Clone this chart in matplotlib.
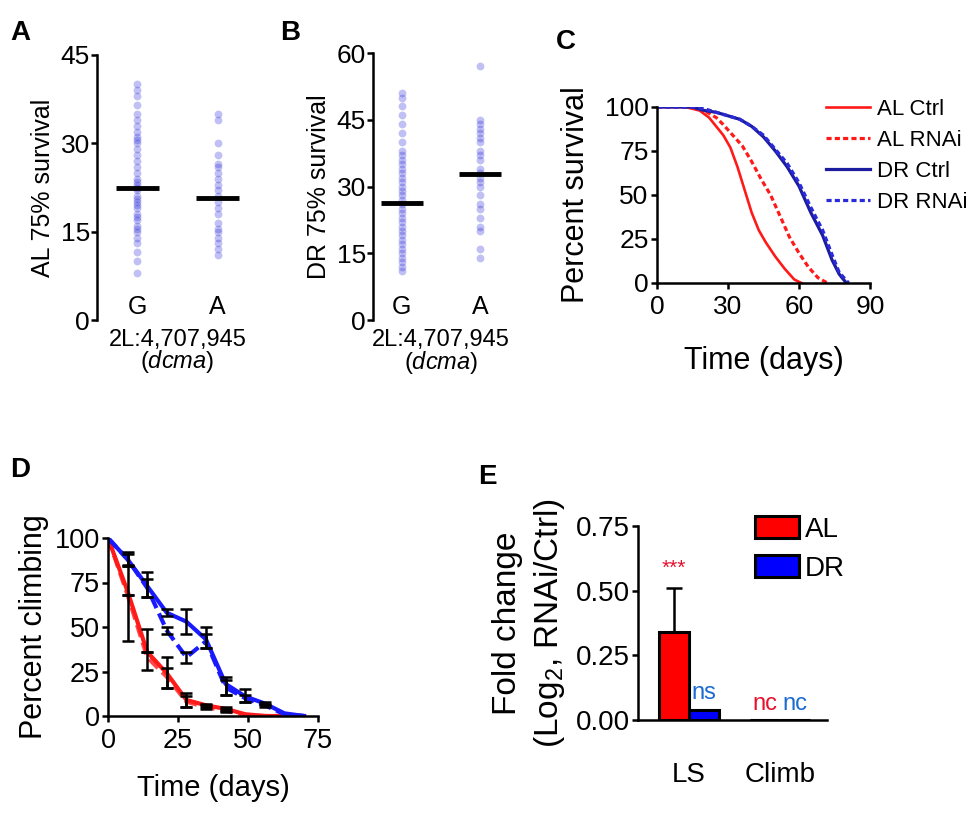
import matplotlib
matplotlib.use("Agg")
import matplotlib.pyplot as plt

plt.rcParams['font.family'] = ['Liberation Sans', 'DejaVu Sans']
plt.rcParams['mathtext.fontset'] = 'custom'
plt.rcParams['mathtext.rm'] = 'Liberation Sans'
plt.rcParams['mathtext.it'] = 'Liberation Sans:italic'
plt.rcParams['mathtext.default'] = 'regular'
plt.rcParams['axes.linewidth'] = 1.8
plt.rcParams['xtick.major.width'] = 1.8
plt.rcParams['ytick.major.width'] = 1.8

# ---------------- data ----------------
# Panels A/B: 75% survival per line, by allele at 2L:4,707,945
alleles = ['G', 'A']
al_G = [8, 10, 11.5, 13, 14, 15, 15.5, 16, 17, 17.5, 18, 19, 19.5, 20, 20.5, 21, 22, 22.5,
        23, 23.5, 24, 25, 26, 27, 28, 29, 30, 30.5, 31, 32, 33, 34, 35, 36.5, 38, 39, 40]
al_A = [11, 12, 13, 14, 15, 15.5, 16.5, 18, 19, 20, 21, 22, 23, 24, 25, 26, 26.5, 28, 30, 34, 35]
al_means = [22.5, 20.8]
dr_G = [11, 12, 13, 14, 15, 16, 17, 18, 19, 20, 21, 22, 23, 24, 25, 26, 27, 28, 29, 30, 31,
        32, 33, 34, 35, 36, 37, 38, 40, 42, 44, 46, 48, 50, 51]
dr_A = [14, 16, 20, 21, 23, 25, 26, 28, 30, 31, 32, 33, 34, 36, 37, 38, 40, 41, 42, 43, 44, 45, 57]
dr_means = [26.3, 32.7]

# Panel C: survival curves
al_ctrl_t = [0, 12, 18, 22, 25, 28, 31, 34, 37, 40, 43, 46, 50, 54, 58, 61]
al_ctrl_s = [100, 100, 98, 94, 89, 84, 77, 66, 53, 40, 30, 23, 15, 8, 2, 0]
al_rnai_t = [0, 14, 20, 25, 28, 32, 36, 40, 44, 48, 52, 56, 60, 64, 68, 72]
al_rnai_s = [100, 100, 98, 94, 90, 84, 78, 69, 59, 50, 38, 26, 17, 9, 3, 0]
dr_ctrl_t = [0, 15, 20, 25, 30, 35, 40, 45, 50, 55, 60, 65, 70, 74, 77, 80]
dr_ctrl_s = [100, 100, 98, 97, 95, 93, 89, 83, 75, 66, 55, 40, 27, 13, 5, 0]
dr_rnai_t = [0, 15, 20, 25, 30, 35, 40, 45, 50, 55, 60, 65, 70, 74, 77, 81]
dr_rnai_s = [100, 100, 99, 97, 95, 93, 89, 84, 76, 68, 57, 43, 30, 16, 6, 0]
surv_labels = ['AL Ctrl', 'AL RNAi', 'DR Ctrl', 'DR RNAi']

# Panel D: climbing
d_days = [0, 7, 14, 21, 28, 35, 42, 49, 56, 63, 70]
al_ctrl_d = [100, 70, 36, 24, 9, 6, 4, 1, 0, 0, 0]
al_rnai_d = [100, 68, 33, 22, 8, 5, 3, 0.5, 0, 0, 0]
dr_ctrl_d = [100, 88, 73, 58, 53, 43, 18, 11, 7, 1.5, 0]
dr_rnai_d = [100, 88, 72, 48, 33, 42, 16, 10, 6, 1, 0]
al_ctrl_lo = [0, 2, 0, 8, 4, 1, 1, 0, 0, 0, 0]
al_ctrl_hi = [0, 14, 13, 9, 4, 1, 1, 0, 0, 0, 0]
al_rnai_lo = [0, 26, 7, 6, 3, 1, 1, 0, 0, 0, 0]
al_rnai_hi = [0, 0, 3, 5, 3, 1, 1, 0, 0, 0, 0]
dr_ctrl_lo = [0, 4, 6, 2, 7, 5, 6, 3, 1, 0, 0]
dr_ctrl_hi = [0, 4, 8, 2, 7, 7, 4, 4, 1, 0, 0]
dr_rnai_lo = [0, 3, 5, 2, 3, 4, 4, 2, 1, 0, 0]
dr_rnai_hi = [0, 3, 5, 2, 3, 4, 4, 2, 1, 0, 0]

# Panel E: fold change
e_groups = ['LS', 'Climb']
e_al = [0.34, 0.0]
e_dr = [0.04, 0.0]
e_al_err = [0.17, 0.0]
e_al_note = ['***', 'nc']
e_dr_note = ['ns', 'nc']

# ---------------- figure ----------------
W, H = 977, 818
fig = plt.figure(figsize=(W / 100, H / 100), dpi=100)


def add_ax(l, t, r, b):
    return fig.add_axes([l / W, 1 - b / H, (r - l) / W, (b - t) / H])


RED = '#ff1a1a'
BLUE = '#1a1aff'
NAVY = '#1c1ca0'
DOT = '#2020d8'


def scatter_panel(ax, g, a, means, ylim, yticks, ylabel, xlim):
    for i, vals in enumerate([g, a]):
        ax.scatter([i + 1] * len(vals), vals, s=32, color=DOT, alpha=0.28, linewidths=0, zorder=2)
        ax.plot([i + 1 - 0.27, i + 1 + 0.27], [means[i], means[i]], color='black', lw=3.5, zorder=3,
                solid_capstyle='butt')
    ax.set_xlim(*xlim)
    ax.set_ylim(*ylim)
    ax.set_yticks(yticks)
    ax.tick_params(axis='y', labelsize=19, length=4, pad=1)
    ax.set_xticks([])
    for s in ['top', 'right', 'bottom']:
        ax.spines[s].set_visible(False)
    ax.set_ylabel(ylabel, fontsize=18, labelpad=4)
    tr = ax.get_xaxis_transform()
    for i, lab in enumerate(alleles):
        ax.text(i + 1, 0.05, lab, transform=tr, ha='center', va='center', fontsize=18)
    mid = 1.5
    ax.text(mid, -0.075, '2L:4,707,945', transform=tr, ha='center', va='center', fontsize=17)
    ax.text(mid, -0.158, r'($\mathit{dcma}$)', transform=tr, ha='center', va='center', fontsize=17)


# Panel A
axA = add_ax(97, 55, 258, 320)
scatter_panel(axA, al_G, al_A, al_means, (0, 45), [0, 15, 30, 45], 'AL 75% survival', (0.5, 2.5))
# Panel B
axB = add_ax(373, 53, 519, 320)
scatter_panel(axB, dr_G, dr_A, dr_means, (0, 60), [0, 15, 30, 45, 60], 'DR 75% survival', (0.63, 2.5))

# Panel C
axC = add_ax(657, 107, 870, 283)
dot = (0, (1.6, 1.0))
axC.plot(al_ctrl_t, al_ctrl_s, color=RED, lw=1.9, label=surv_labels[0])
axC.plot(al_rnai_t, al_rnai_s, color=RED, lw=2.3, ls=dot, label=surv_labels[1])
axC.plot(dr_ctrl_t, dr_ctrl_s, color=NAVY, lw=2.3, label=surv_labels[2])
axC.plot(dr_rnai_t, dr_rnai_s, color='#2a2ad8', lw=2.3, ls=dot, label=surv_labels[3])
axC.set_xlim(0, 90)
axC.set_ylim(0, 100)
axC.set_xticks([0, 30, 60, 90])
axC.set_yticks([0, 25, 50, 75, 100])
axC.tick_params(labelsize=19, length=4, pad=5)
axC.tick_params(axis='y', pad=2)
for s in ['top', 'right']:
    axC.spines[s].set_visible(False)
axC.set_xlabel('Time (days)', fontsize=22, labelpad=19)
axC.set_ylabel('Percent survival', fontsize=22, labelpad=10)
axC.legend(loc='upper left', bbox_to_anchor=(826 / W, 1 - 99 / H), bbox_transform=fig.transFigure,
           frameon=False, fontsize=16, handlelength=2.0, handletextpad=0.3, labelspacing=0.45,
           borderaxespad=0, borderpad=0)

# Panel D
axD = add_ax(108, 538, 318, 716)
dash = (0, (3, 1.4))
axD.plot(d_days, al_ctrl_d, color=RED, lw=3)
axD.plot(d_days, al_rnai_d, color=RED, lw=3, ls=dash, alpha=0.8)
axD.plot(d_days, dr_ctrl_d, color=BLUE, lw=3)
axD.plot(d_days, dr_rnai_d, color=BLUE, lw=3, ls=dash)
for vals, lo, hi in [(al_ctrl_d, al_ctrl_lo, al_ctrl_hi), (al_rnai_d, al_rnai_lo, al_rnai_hi),
                     (dr_ctrl_d, dr_ctrl_lo, dr_ctrl_hi), (dr_rnai_d, dr_rnai_lo, dr_rnai_hi)]:
    idx = [i for i in range(1, 9) if lo[i] + hi[i] > 0]
    axD.errorbar([d_days[i] for i in idx], [vals[i] for i in idx],
                 yerr=[[lo[i] for i in idx], [hi[i] for i in idx]],
                 fmt='none', ecolor='black', elinewidth=1.8, capsize=4.5, capthick=1.8, zorder=4)
axD.set_xlim(0, 75)
axD.set_ylim(0, 100)
axD.set_xticks([0, 25, 50, 75])
axD.set_yticks([0, 25, 50, 75, 100])
axD.tick_params(labelsize=19.5, length=4, pad=5)
axD.tick_params(axis='y', pad=2)
for s in ['top', 'right']:
    axD.spines[s].set_visible(False)
axD.set_xlabel('Time (days)', fontsize=21, labelpad=14)
axD.set_ylabel('Percent climbing', fontsize=22, labelpad=4)

# Panel E
axE = add_ax(638, 526, 827, 720)
w = 0.33
xs = list(range(len(e_groups)))
axE.bar([x - w / 2 for x in xs], e_al, w, color='#ff0000', edgecolor='black', lw=2.2, label='AL', zorder=3)
axE.bar([x + w / 2 for x in xs], e_dr, w, color='#0000ff', edgecolor='black', lw=2.2, label='DR', zorder=3)
axE.errorbar([x - w / 2 for x in xs], e_al, yerr=[[0] * len(xs), e_al_err], fmt='none', ecolor='black',
             elinewidth=1.8, capsize=6, capthick=1.8, zorder=2)
for i in xs:
    top = e_al[i] + e_al_err[i]
    if e_al_note[i] == '***':
        axE.text(i - w / 2, top + 0.04, e_al_note[i], color='#e8102a', fontsize=15, ha='center', va='bottom')
    else:
        axE.text(i - w / 2, e_al[i] + 0.02, e_al_note[i], color='#e8102a', fontsize=17, ha='center', va='bottom')
    axE.text(i + w / 2, e_dr[i] + 0.02, e_dr_note[i], color='#1a6ad0', fontsize=17, ha='center', va='bottom')
axE.set_xlim(-0.56, 1.52)
axE.set_ylim(0, 0.75)
axE.set_yticks([0, 0.25, 0.5, 0.75])
axE.set_yticklabels(['0.00', '0.25', '0.50', '0.75'])
axE.set_xticks(xs)
axE.set_xticklabels(e_groups)
axE.tick_params(axis='y', labelsize=20, length=4, pad=2)
axE.tick_params(axis='x', labelsize=20, length=0, pad=30)
for s in ['top', 'right']:
    axE.spines[s].set_visible(False)
axE.set_ylabel('Fold change\n(Log$_2$, RNAi/Ctrl)', fontsize=24, labelpad=6, linespacing=1.35)
axE.legend(loc='upper left', bbox_to_anchor=(755 / W, 1 - 516 / H), bbox_transform=fig.transFigure,
           frameon=False, fontsize=20, handlelength=1.6, handleheight=0.85, handletextpad=0.2,
           labelspacing=0.45, borderaxespad=0, borderpad=0)

# panel letters
for lab, x, y in [('A', 20, 33), ('B', 290, 33), ('C', 566, 42), ('D', 20, 470), ('E', 487, 477)]:
    fig.text(x / W, 1 - y / H, lab, fontsize=20, fontweight='bold', ha='center', va='center')

fig.savefig('out.png', dpi=100)
